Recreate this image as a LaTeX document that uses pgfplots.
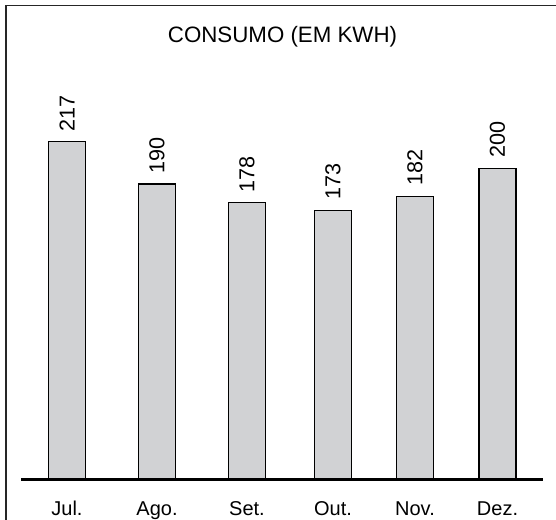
\documentclass[border=0pt]{standalone}
\usepackage{pgfplots}
\pgfplotsset{compat=1.18}
\usepackage{fontspec}
\setmainfont{Liberation Sans}
\definecolor{barfill}{HTML}{D1D2D4}
\begin{document}
\begin{tikzpicture}
\useasboundingbox (0,0) rectangle (556bp,520bp);
% frame (top and left edges)
\draw[line width=1.6bp, black!85] (556bp,514.5bp) -- (6bp,514.5bp) -- (6bp,0bp);
\node[anchor=base, inner sep=0pt, font=\fontsize{22.3bp}{26bp}\selectfont] at (282.5bp,477.7bp) {CONSUMO (EM KWH)};
\begin{axis}[
  at={(0bp,40.5bp)}, anchor=origin,
  scale only axis, width=556bp, height=466.8bp,
  xmin=0, xmax=556, ymin=0, ymax=300,
  axis x line*=bottom, axis y line=none,
  x axis line style={draw=none},
  xtick style={draw=none},
  xtick={67,157,247,333,415,497.5},
  xticklabels={Jul.,Ago.,Set.,Out.,Nov.,Dez.},
  xticklabel style={anchor=base, yshift=-32bp, inner sep=0pt, font=\fontsize{20bp}{24bp}\selectfont},
  ybar, bar width=37, bar shift=0pt,
  clip=false,
  /pgf/number format/assume math mode=true,
  nodes near coords={\pgfmathprintnumber[assume math mode=true]{\pgfplotspointmeta}},
  every node near coord/.style={font=\fontsize{20bp}{24bp}\selectfont, rotate=90, anchor=west, inner xsep=9bp, inner ysep=0pt, black, scale=1.08},
]
\addplot[fill=barfill, draw=black, line width=1.3bp] coordinates {
  (67,217) (157,190) (247,178) (333,173) (415,182) (497.5,200)
};
\draw[line width=3bp, black] (axis cs:21,0) -- (axis cs:543,0);
\end{axis}
\end{tikzpicture}
\end{document}
